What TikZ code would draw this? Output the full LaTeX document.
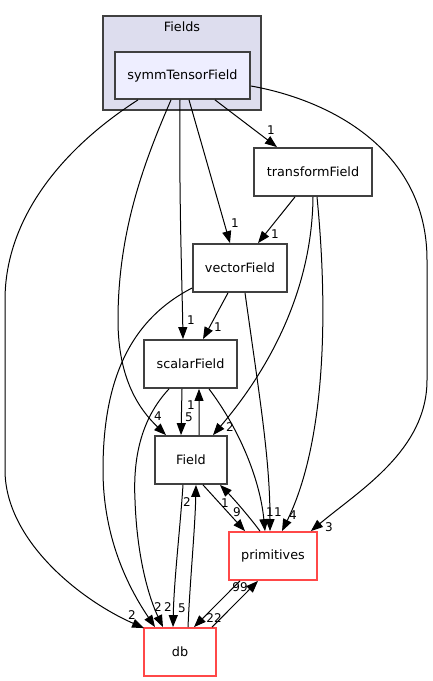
\documentclass[tikz,border=0pt]{standalone}
\usepackage{fontspec}
\setmainfont{DejaVu Sans}
\usetikzlibrary{arrows.meta,calc}
\definecolor{clfill}{RGB}{221,221,238}
\definecolor{symfill}{RGB}{238,238,255}
\definecolor{bord}{RGB}{64,64,64}
\definecolor{redb}{RGB}{255,72,72}
\begin{document}
\begin{tikzpicture}[x=1bp,y=-1bp,
  dirbox/.style={draw=bord, line width=1.8bp, fill=white, inner sep=0pt,
    font=\fontsize{12.8bp}{15bp}\selectfont},
  redbox/.style={dirbox, draw=redb},
  dep/.style={draw=black, line width=1bp, -{Triangle[length=12bp,width=9bp]}},
  lbl/.style={font=\fontsize{12bp}{14bp}\selectfont, inner sep=0pt}]
\useasboundingbox (0,0) rectangle (432,681);
% cluster
\draw[draw=bord, line width=1.8bp, fill=clfill] (103,16) rectangle (261,110);
\node[font=\fontsize{12.8bp}{15bp}\selectfont, inner sep=0pt] (fields) at (182,27) {Fields};
% nodes
\node[dirbox, fill=symfill, minimum width=135bp, minimum height=47bp] (sym) at (182.5,75.5) {symmTensorField};
\node[dirbox, minimum width=118bp, minimum height=48bp] (trans) at (313,172) {transformField};
\node[dirbox, minimum width=94bp, minimum height=48bp] (vec) at (240,268) {vectorField};
\node[dirbox, minimum width=93bp, minimum height=48bp] (scal) at (190.5,364) {scalarField};
\node[dirbox, minimum width=72bp, minimum height=48bp] (field) at (191,460) {Field};
\node[redbox, minimum width=88bp, minimum height=48bp] (prim) at (273,556) {primitives};
\node[redbox, minimum width=72bp, minimum height=48bp] (db) at (180,652) {db};
% edges from symmTensorField
\draw[dep] ($(sym.south)+(32.5,0)$) -- ($(trans.north)+(-36,0)$);
\draw[dep] ($(sym.south)+(6.5,0)$) -- ($(vec.north)+(-10,0)$);
\draw[dep] ($(sym.south)+(-2.5,0)$) .. controls (179,200) and (182,280) .. ($(scal.north)+(-7.5,0)$);
\draw[dep] ($(sym.south)+(-11.5,0)$) .. controls (145,160) and (118,230) .. (118,320)
   .. controls (118,380) and (140,410) .. ($(field.north)+(-25,0)$);
\draw[dep] ($(sym.south)+(-44.5,0)$) .. controls (60,150) and (5,220) .. (5,300) -- (5,470)
   .. controls (5,540) and (80,600) .. ($(db.north west)+(1,1)$);
\draw[dep] ($(sym.east)+(0,10.5)$) .. controls (330,100) and (427,150) .. (427,260) -- (427,380)
   .. controls (427,450) and (360,490) .. ($(prim.north east)+(-7,0)$);
% edges from transformField
\draw[dep] ($(trans.south)+(-18,0)$) -- ($(vec.north)+(18,0)$);
\draw[dep] (trans.south) .. controls (312,300) and (260,380) .. ($(field.north)+(22,0)$);
\draw[dep] ($(trans.south)+(4,0)$) .. controls (330,330) and (322,450) .. ($(prim.north)+(9,0)$);
% edges from vectorField
\draw[dep] ($(vec.south)+(-12,0)$) -- ($(scal.north)+(12.5,0)$);
\draw[dep] ($(vec.west)+(0,20)$) .. controls (130,320) and (103,380) .. (103,470)
   .. controls (103,540) and (130,590) .. ($(db.north)+(-25,0)$);
\draw[dep] ($(vec.south)+(5,0)$) .. controls (260,400) and (270,460) .. ($(prim.north)+(-3,0)$);
% edges from scalarField
\draw[dep] ($(scal.south)+(-8.5,0)$) -- ($(field.north)+(-10,0)$);
\draw[dep] ($(scal.south)+(-21.5,0)$) .. controls (140,420) and (133,460) .. (135,500)
   .. controls (137,560) and (150,600) .. ($(db.north)+(-17,0)$);
\draw[dep] ($(scal.south)+(18.5,0)$) .. controls (240,430) and (260,480) .. ($(prim.north)+(-8,0)$);
% edges from Field
\draw[dep] ($(field.north)+(8,0)$) -- ($(scal.south)+(8.5,0)$);
\draw[dep] ($(field.south)+(-8,0)$) .. controls (180,530) and (174,580) .. ($(db.north)+(-7,0)$);
\draw[dep] ($(field.south)+(12,0)$) -- ($(prim.north)+(-28,0)$);
% edges from primitives
\draw[dep] ($(prim.north)+(-13,0)$) .. controls (248,515) and (232,497) .. ($(field.south)+(29,0)$);
\draw[dep] ($(prim.south)+(-33,0)$) -- ($(db.north)+(14,0)$);
% edges from db
\draw[dep] ($(db.north)+(8,0)$) .. controls (190,580) and (195,530) .. ($(field.south)+(5,0)$);
\draw[dep] ($(db.north)+(32,0)$) -- ($(prim.south)+(-15,0)$);
% labels
\node[lbl] (l1) at (271,130) {1};
\node[lbl] (l2) at (235,223) {1};
\node[lbl] (l3) at (191,320) {1};
\node[lbl] (l4) at (158,416) {4};
\node[lbl] (l5) at (132,615) {2};
\node[lbl] (l6) at (329,527) {3};
\node[lbl] (l7) at (275,234) {1};
\node[lbl] (l8) at (230,427) {2};
\node[lbl] (l9) at (293,515) {4};
\node[lbl] (l10) at (218,327) {1};
\node[lbl] (l11) at (158,607) {2};
\node[lbl] (l12) at (270,512) {1};
\node[lbl] (l13) at (189,417) {5};
\node[lbl] (l14) at (191,405) {1};
\node[lbl] (l15) at (168,607) {2};
\node[lbl] (l16) at (278,512) {1};
\node[lbl] (l17) at (182,608) {5};
\node[lbl] (l18) at (187,502) {2};
\node[lbl] (l19) at (225,503) {1};
\node[lbl] (l20) at (237,512) {9};
\node[lbl] (l21) at (214,618) {22};
\node[lbl] (l22) at (240,587) {99};
\end{tikzpicture}
\end{document}
